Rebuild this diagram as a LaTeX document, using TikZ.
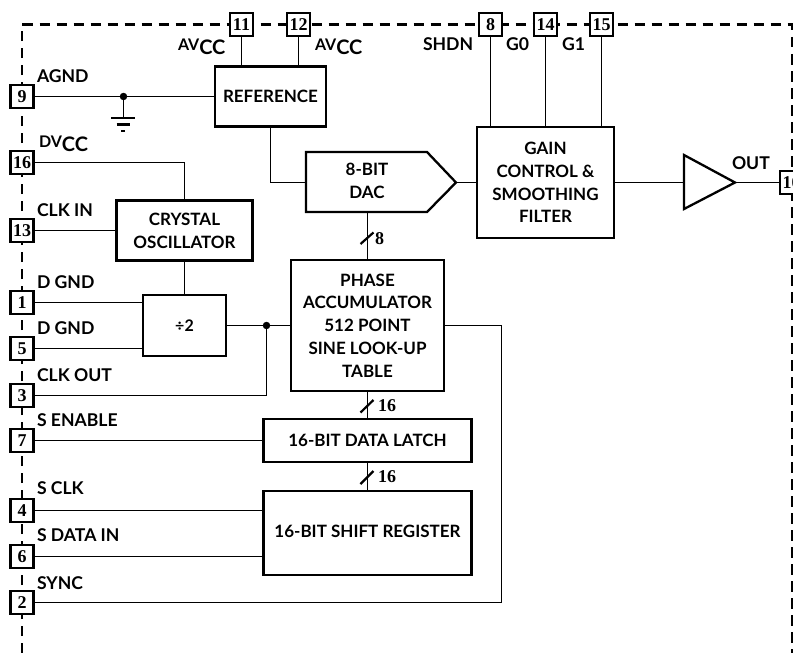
\documentclass[tikz,border=0pt]{standalone}
\usepackage{fontspec}
\setmainfont{Lato}[BoldFont={Lato Bold}]
\newfontfamily\pinfont{Liberation Serif}
\tikzset{
  blockbox/.style={draw, line width=2.3pt, fill=white, align=center, inner sep=0pt, outer sep=0pt},
  pinbox/.style={draw, line width=2.3pt, fill=white, minimum size=23pt, inner sep=0pt, outer sep=0pt, font=\pinfont\fontsize{18}{18}\selectfont\bfseries},
  tag/.style={anchor=west, inner sep=0pt, outer sep=0pt, font=\fontsize{17.6}{18}\selectfont\bfseries},
  bus/.style={anchor=west, inner sep=0pt, outer sep=0pt, font=\pinfont\fontsize{18}{18}\selectfont\bfseries},
  dotnode/.style={circle, fill, minimum size=7.5pt, inner sep=0pt, outer sep=0pt},
  wire/.style={line width=1.1pt},
  shape line/.style={line width=2.3pt, line join=miter},
}
\newcommand{\VCC}[1]{\fontsize{16}{16}\selectfont #1\raisebox{-4.5pt}{\fontsize{20}{20}\selectfont CC}}

\begin{document}
\begin{tikzpicture}[x=1pt, y=-1pt, font=\fontsize{17}{22.8}\selectfont\bfseries]

  \useasboundingbox (0,0) rectangle (793,653);

  %% package outline
  \draw[line width=2.3pt, dash pattern=on 10.5pt off 6.5pt] (22,653) -- (22,24.5) -- (792,24.5) -- (792,653);

  %% pins, left side
  \node[pinbox] (pinA) at (22,96.5) {9};
  \node[pinbox] (pinB) at (22,162.5) {16};
  \node[pinbox] (pinC) at (22,230.5) {13};
  \node[pinbox] (pinD) at (22,302.5) {1};
  \node[pinbox] (pinE) at (22,348.5) {5};
  \node[pinbox] (pinF) at (22,395.5) {3};
  \node[pinbox] (pinG) at (22,440.5) {7};
  \node[pinbox] (pinH) at (22,510.5) {4};
  \node[pinbox] (pinI) at (22,556.5) {6};
  \node[pinbox] (pinJ) at (22,602.5) {2};

  %% pins, top and right side
  \node[pinbox] (pinK) at (241.5,24.5) {11};
  \node[pinbox] (pinL) at (298.5,24.5) {12};
  \node[pinbox] (pinM) at (490.5,24.5) {8};
  \node[pinbox] (pinN) at (545.5,24.5) {14};
  \node[pinbox] (pinO) at (601.5,24.5) {15};
  \node[pinbox] (pinP) at (791.5,182.5) {10};

  %% blocks
  \node[blockbox, minimum width=111pt, minimum height=60pt] (refbox) at (270.5,96.5) {REFERENCE};
  \node[blockbox, minimum width=136pt, minimum height=60pt] (xtalbox) at (184.5,230.5) {CRYSTAL\\OSCILLATOR};
  \node[blockbox, minimum width=83pt, minimum height=61pt, font=\fontsize{16}{16}\selectfont\bfseries] (divbox) at (184.5,325.5) {÷2};
  \node[blockbox, minimum width=152.5pt, minimum height=131pt] (phasebox) at (367.5,325.5) {PHASE\\ACCUMULATOR\\512 POINT\\SINE LOOK-UP\\TABLE};
  \node[blockbox, minimum width=208pt, minimum height=43pt] (latchbox) at (367.5,440.5) {16-BIT DATA LATCH};
  \node[blockbox, minimum width=208pt, minimum height=84pt, text depth=4pt] (shiftbox) at (367.5,533) {16-BIT SHIFT REGISTER};
  \node[blockbox, minimum width=137pt, minimum height=111pt] (gainbox) at (545.5,182.5) {GAIN\\CONTROL \&\\SMOOTHING\\FILTER};

  %% DAC and output buffer
  \draw[shape line] (306,152) -- (427,152) -- (456,182.5) -- (427,212) -- (306,212) -- cycle;
  \node[align=center, inner sep=0pt] (daclabel) at (367,181) {8-BIT\\DAC};
  \coordinate (dacin) at (306,182.5);
  \coordinate (dactip) at (456,182.5);
  \coordinate (dacbot) at (367.5,212);
  \draw[shape line] (684,155) -- (735,182.5) -- (684,209) -- cycle;
  \coordinate (ampin) at (684,182.5);
  \coordinate (amptip) at (735,182.5);

  %% junctions and ground
  \node[dotnode] (gnddot) at (123.5,96.5) {};
  \node[dotnode] (clkdot) at (266.5,325.5) {};
  \coordinate (gnd) at (123.5,118);

  \draw[wire] (pinA) -- (refbox); %% AGND
  \draw[wire] (gnddot) -- (gnd);
  \draw[line width=2.4pt] (111,118) -- (135,118);
  \draw[line width=2.4pt] (116.5,124.5) -- (129.5,124.5);
  \draw[line width=2.4pt] (121,131) -- (125,131);

  \draw[wire] (pinK) -- (pinK |- refbox.north);
  \draw[wire] (pinL) -- (pinL |- refbox.north);
  \draw[wire] (pinM) -- (pinM |- gainbox.north);
  \draw[wire] (pinN) -- (pinN |- gainbox.north);
  \draw[wire] (pinO) -- (pinO |- gainbox.north);

  \draw[wire] (pinB) -| (xtalbox.north);
  \draw[wire] (pinC) -- (xtalbox);
  \draw[wire] (xtalbox) -- (divbox);
  \draw[wire] (pinD) -- (pinD -| divbox.west);
  \draw[wire] (pinE) -- (pinE -| divbox.west);
  \draw[wire] (divbox) -- (phasebox);
  \draw[wire] (pinF) -| (clkdot);

  \draw[wire] (refbox.south) |- (dacin);
  \draw[wire] (dactip) -- (dactip -| gainbox.west);
  \draw[wire] (dactip -| gainbox.east) -- (ampin);
  \draw[wire] (amptip) -- (pinP);

  \draw[wire] (dacbot) -- (phasebox.north);
  \draw[wire] (phasebox) -- (latchbox);
  \draw[wire] (latchbox) -- (shiftbox);
  \draw[wire] (pinG) -- (latchbox);
  \draw[wire] (pinH) -- (pinH -| shiftbox.west);
  \draw[wire] (pinI) -- (pinI -| shiftbox.west);
  \draw[wire] (phasebox.east) -| (501.5,602.5) -- (pinJ);

  %% bus ticks
  \draw[line width=2.2pt] (360.5,244) -- (373.5,232.5);
  \draw[line width=2.2pt] (360.5,412.5) -- (373.5,400);
  \draw[line width=2.2pt] (360.5,484) -- (373.5,471);
  \node[bus] (busA) at (375,238.5) {8};
  \node[bus] (busB) at (378,406) {16};
  \node[bus] (busC) at (378,477) {16};

  %% pin names
  \node[tag] (nameA) at (37,76) {AGND};
  \node[tag] (nameB) at (39,144) {\VCC{DV}};
  \node[tag] (nameC) at (37,210) {CLK IN};
  \node[tag] (nameD) at (37,282) {D GND};
  \node[tag] (nameE) at (37,328) {D GND};
  \node[tag] (nameF) at (37,375) {CLK OUT};
  \node[tag] (nameG) at (37,420) {S ENABLE};
  \node[tag] (nameH) at (37,488) {S CLK};
  \node[tag] (nameI) at (37,535) {S DATA IN};
  \node[tag] (nameJ) at (37,583) {SYNC};
  \node[tag] (nameK) at (178,47) {\VCC{AV}};
  \node[tag] (nameL) at (315,47) {\VCC{AV}};
  \node[tag] (nameM) at (423,44) {SHDN};
  \node[tag] (nameN) at (506,44) {G0};
  \node[tag] (nameO) at (562,44) {G1};
  \node[tag] (nameP) at (732,163) {OUT};
\end{tikzpicture}
\end{document}
